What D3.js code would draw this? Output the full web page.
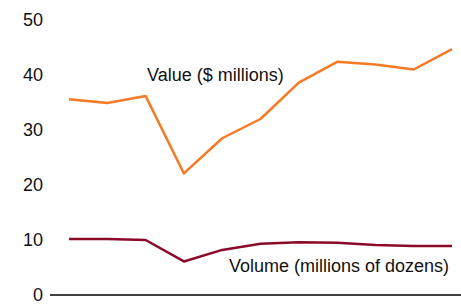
<!DOCTYPE html>
<html>
<head>
<meta charset="utf-8">
<script src="https://cdn.jsdelivr.net/npm/d3@7"></script>
<style>
  html, body { margin: 0; padding: 0; background: #fff; }
  svg { display: block; }
  text { font-family: "Liberation Sans", Arial, Helvetica, sans-serif; }
</style>
</head>
<body>
<svg id="chart" width="461" height="306"></svg>
<script>
const categories = ["1", "2", "3", "4", "5", "6", "7", "8", "9", "10", "11"];
const valueSeries = [35.6, 34.9, 36.2, 22.1, 28.5, 32.0, 38.6, 42.4, 41.9, 41.0, 44.7];
const volumeSeries = [10.2, 10.2, 10.0, 6.1, 8.2, 9.3, 9.6, 9.5, 9.1, 8.9, 8.9];
const yTicks = [0, 10, 20, 30, 40, 50];
const valueLabel = "Value ($ millions)";
const volumeLabel = "Volume (millions of dozens)";

const svg = d3.select("#chart");
const W = 461;
const axisX = 50;

const x = d3.scalePoint().domain(categories).range([69, 452]);
const y = d3.scaleLinear().domain([0, 50]).range([295, 20]);

// y axis labels
const yAxis = d3.axisLeft(y).tickValues(yTicks).tickSize(0).tickPadding(7).tickFormat(d3.format("d"));
const gy = svg.append("g").attr("transform", `translate(${axisX},0)`).call(yAxis);
gy.select(".domain").remove();
gy.selectAll("text").attr("font-size", 18).attr("fill", "#111")
  .style("font-family", '"Liberation Sans", Arial, sans-serif');

// baseline
svg.append("line")
  .attr("x1", axisX).attr("x2", W)
  .attr("y1", y(0)).attr("y2", y(0))
  .attr("stroke", "#000").attr("stroke-width", 1.5);

const line = d3.line().x((d, i) => x(categories[i])).y(d => y(d));

svg.append("path").datum(valueSeries)
  .attr("d", line).attr("fill", "none")
  .attr("stroke", "#f47a25").attr("stroke-width", 2.5).attr("stroke-linejoin", "round");

svg.append("path").datum(volumeSeries)
  .attr("d", line).attr("fill", "none")
  .attr("stroke", "#8b0a2a").attr("stroke-width", 2.5).attr("stroke-linejoin", "round");

svg.append("text").attr("x", 147).attr("y", 81)
  .attr("font-size", 18).attr("fill", "#111").text(valueLabel);
svg.append("text").attr("x", 229).attr("y", 272)
  .attr("font-size", 18).attr("fill", "#111").text(volumeLabel);
</script>
</body>
</html>
